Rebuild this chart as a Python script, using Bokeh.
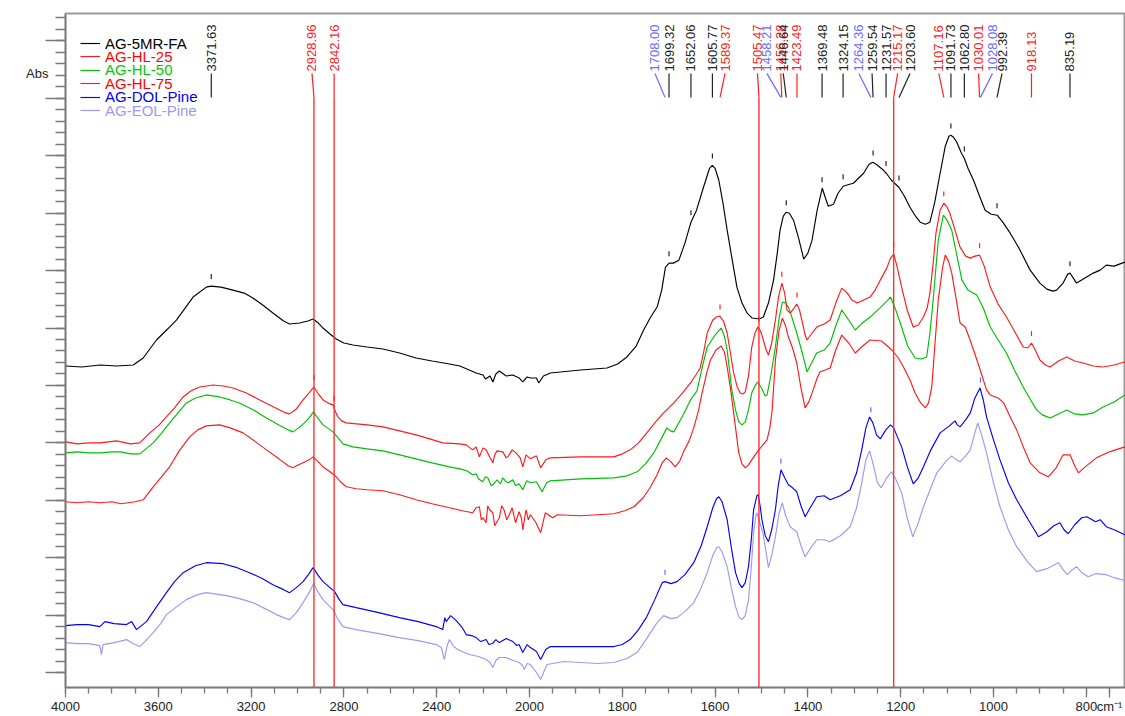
import numpy as np
from bokeh.plotting import figure
from bokeh.models import (Range1d, FixedTicker, Legend, LegendItem, LinearAxis,
                          ColumnDataSource)
from bokeh.core.properties import value
from bokeh.embed import file_html
from bokeh.resources import INLINE

# ---------------- data (wavenumber in cm-1, absorbance in a.u.) ----------------
fa_wn = [4000, 3930, 3850, 3780, 3708, 3665, 3608, 3560, 3522, 3450, 3393, 3372, 3330, 3278, 3230,
         3192, 3150, 3106, 3060, 3034, 2991, 2955, 2933, 2910, 2890, 2860, 2833, 2800, 2761, 2700,
         2632, 2560, 2489, 2420, 2345, 2300, 2260, 2230, 2200, 2190, 2170, 2158, 2145, 2130, 2100,
         2072, 2045, 2029, 2010, 1998, 1985, 1980, 1970, 1955, 1890, 1833, 1810, 1790, 1770, 1754,
         1740, 1725, 1715, 1707, 1699, 1690, 1678, 1665, 1652, 1640, 1625, 1612, 1606, 1600, 1592,
         1583, 1574, 1563, 1553, 1542, 1531, 1520, 1505, 1496, 1485, 1474, 1466, 1460, 1453, 1447,
         1440, 1431, 1420, 1409, 1400, 1391, 1380, 1369, 1362, 1356, 1345, 1335, 1324, 1310, 1302,
         1280, 1268, 1260, 1250, 1237, 1231, 1220, 1204, 1192, 1180, 1168, 1158, 1147, 1137, 1127,
         1115, 1104, 1096, 1092, 1086, 1079, 1070, 1063, 1055, 1043, 1030, 1018, 1005, 992, 980,
         964, 945, 921, 900, 885, 872, 864, 850, 840, 835, 828, 821, 810, 785, 770, 757, 740, 717]
fa_ab = [3.22, 3.21, 3.23, 3.22, 3.23, 3.30, 3.48, 3.59, 3.68, 3.91, 4.01, 4.02, 4.01, 3.98, 3.95,
         3.90, 3.83, 3.75, 3.67, 3.64, 3.65, 3.67, 3.69, 3.65, 3.60, 3.54, 3.49, 3.45, 3.43, 3.41,
         3.39, 3.35, 3.30, 3.27, 3.24, 3.22, 3.18, 3.15, 3.13, 3.09, 3.12, 3.06, 3.14, 3.17, 3.12,
         3.13, 3.10, 3.06, 3.11, 3.10, 3.10, 3.05, 3.12, 3.15, 3.18, 3.20, 3.24, 3.31, 3.42, 3.58,
         3.70, 3.81, 3.98, 4.21, 4.25, 4.25, 4.28, 4.45, 4.66, 4.78, 5.01, 5.20, 5.23, 5.20, 5.08,
         4.85, 4.58, 4.28, 4.01, 3.85, 3.75, 3.70, 3.69, 3.71, 3.85, 4.08, 4.35, 4.58, 4.72, 4.76,
         4.75, 4.68, 4.50, 4.29, 4.35, 4.48, 4.78, 5.00, 4.90, 4.82, 4.84, 4.95, 5.02, 5.04, 5.05,
         5.15, 5.24, 5.26, 5.23, 5.18, 5.15, 5.08, 5.01, 4.92, 4.81, 4.72, 4.66, 4.64, 4.66, 4.85,
         5.15, 5.42, 5.52, 5.53, 5.51, 5.46, 5.36, 5.30, 5.20, 5.08, 4.92, 4.78, 4.74, 4.73, 4.66,
         4.55, 4.40, 4.18, 4.05, 3.99, 3.97, 3.98, 4.05, 4.14, 4.15, 4.10, 4.05, 4.08, 4.15, 4.18,
         4.23, 4.22, 4.26]

hl25_wn = [4000, 3950, 3900, 3852, 3780, 3720, 3680, 3637, 3600, 3565, 3530, 3493, 3460, 3422, 3364,
           3320, 3278, 3220, 3163, 3120, 3077, 3050, 3034, 3005, 2976, 2950, 2929, 2910, 2890, 2860,
           2847, 2836, 2826, 2810, 2790, 2700, 2632, 2560, 2489, 2430, 2374, 2300, 2273, 2245, 2230,
           2216, 2200, 2187, 2170, 2158, 2150, 2140, 2115, 2100, 2090, 2075, 2058, 2040, 2029, 2015,
           1998, 1985, 1976, 1965, 1955, 1890, 1818, 1800, 1783, 1765, 1747, 1730, 1711, 1700, 1689,
           1670, 1653, 1640, 1632, 1625, 1617, 1605, 1597, 1590, 1582, 1574, 1567, 1560, 1553, 1546,
           1540, 1535, 1528, 1521, 1514, 1508, 1502, 1496, 1490, 1485, 1478, 1470, 1463, 1456, 1450,
           1445, 1438, 1430, 1424, 1418, 1413, 1406, 1402, 1394, 1381, 1365, 1352, 1340, 1327, 1315,
           1305, 1294, 1280, 1266, 1255, 1244, 1230, 1222, 1215, 1208, 1198, 1186, 1173, 1162, 1151,
           1143, 1137, 1130, 1124, 1115, 1107, 1100, 1094, 1083, 1072, 1060, 1050, 1040, 1030, 1020,
           1007, 990, 972, 955, 936, 926, 918, 910, 900, 888, 878, 860, 842, 825, 807, 785, 764, 740,
           717]
hl25_ab = [2.46, 2.44, 2.45, 2.45, 2.47, 2.44, 2.45, 2.55, 2.62, 2.71, 2.80, 2.91, 2.97, 3.01, 3.03,
           3.02, 3.00, 2.95, 2.88, 2.83, 2.78, 2.75, 2.74, 2.79, 2.88, 2.95, 3.01, 2.94, 2.88, 2.84,
           2.83, 2.76, 2.71, 2.67, 2.65, 2.63, 2.61, 2.57, 2.53, 2.49, 2.45, 2.44, 2.43, 2.38, 2.41,
           2.31, 2.40, 2.38, 2.30, 2.25, 2.33, 2.37, 2.36, 2.30, 2.32, 2.38, 2.35, 2.30, 2.21, 2.33,
           2.29, 2.32, 2.20, 2.28, 2.30, 2.31, 2.31, 2.34, 2.38, 2.45, 2.55, 2.65, 2.75, 2.80, 2.85,
           2.95, 3.05, 3.14, 3.20, 3.35, 3.55, 3.68, 3.71, 3.72, 3.67, 3.55, 3.35, 3.15, 3.02, 2.95,
           2.94, 2.96, 3.12, 3.41, 3.55, 3.61, 3.57, 3.48, 3.38, 3.33, 3.45, 3.68, 3.92, 4.05, 3.95,
           3.78, 3.75, 3.80, 3.84, 3.78, 3.68, 3.53, 3.48, 3.53, 3.61, 3.64, 3.68, 3.85, 4.00, 3.95,
           3.88, 3.85, 3.88, 3.91, 3.98, 4.08, 4.20, 4.30, 4.34, 4.22, 4.01, 3.78, 3.61, 3.63, 3.71,
           3.80, 3.95, 4.25, 4.55, 4.78, 4.85, 4.81, 4.75, 4.58, 4.41, 4.32, 4.30, 4.32, 4.33, 4.22,
           4.01, 3.84, 3.71, 3.57, 3.41, 3.40, 3.45, 3.38, 3.28, 3.23, 3.21, 3.27, 3.31, 3.27, 3.25,
           3.22, 3.21, 3.23, 3.26]

hl50_wn = [4000, 3950, 3900, 3852, 3800, 3760, 3720, 3680, 3622, 3585, 3551, 3515, 3479, 3440, 3393,
           3336, 3290, 3250, 3190, 3134, 3080, 3040, 3020, 2995, 2970, 2950, 2931, 2910, 2890, 2865,
           2847, 2825, 2804, 2761, 2700, 2632, 2560, 2489, 2420, 2345, 2300, 2270, 2245, 2230, 2220,
           2202, 2190, 2180, 2165, 2158, 2140, 2125, 2115, 2100, 2090, 2072, 2060, 2045, 2029, 2012,
           1998, 1985, 1973, 1963, 1955, 1890, 1818, 1790, 1768, 1750, 1732, 1715, 1704, 1696, 1689,
           1670, 1653, 1639, 1628, 1617, 1600, 1587, 1580, 1574, 1564, 1556, 1549, 1542, 1535, 1528,
           1521, 1514, 1508, 1500, 1492, 1488, 1480, 1470, 1462, 1455, 1448, 1442, 1434, 1424, 1412,
           1402, 1392, 1381, 1365, 1352, 1340, 1327, 1312, 1298, 1285, 1266, 1245, 1230, 1222, 1212,
           1198, 1185, 1169, 1155, 1144, 1137, 1130, 1119, 1108, 1100, 1090, 1080, 1068, 1055, 1036,
           1022, 1007, 990, 972, 955, 936, 920, 907, 895, 878, 860, 842, 825, 807, 785, 764, 740, 717]
hl50_ab = [2.35, 2.36, 2.35, 2.35, 2.36, 2.36, 2.34, 2.34, 2.45, 2.55, 2.65, 2.75, 2.85, 2.90, 2.93,
           2.91, 2.88, 2.85, 2.78, 2.70, 2.63, 2.58, 2.56, 2.60, 2.65, 2.70, 2.76, 2.69, 2.63, 2.59,
           2.56, 2.50, 2.44, 2.41, 2.39, 2.37, 2.33, 2.29, 2.25, 2.21, 2.19, 2.17, 2.13, 2.14, 2.09,
           2.06, 2.11, 2.10, 2.02, 2.03, 2.08, 2.04, 2.10, 2.06, 2.05, 2.08, 2.02, 2.04, 1.98, 2.07,
           2.05, 2.06, 1.96, 2.05, 2.07, 2.09, 2.10, 2.12, 2.16, 2.24, 2.35, 2.50, 2.60, 2.57, 2.56,
           2.72, 2.88, 2.97, 3.20, 3.41, 3.53, 3.60, 3.52, 3.38, 2.98, 2.78, 2.66, 2.63, 2.66, 2.78,
           2.95, 3.02, 3.06, 3.00, 2.92, 2.93, 3.12, 3.41, 3.70, 3.86, 3.85, 3.81, 3.70, 3.55, 3.35,
           3.16, 3.25, 3.35, 3.38, 3.45, 3.62, 3.78, 3.68, 3.58, 3.64, 3.71, 3.80, 3.87, 3.91, 3.80,
           3.61, 3.42, 3.30, 3.29, 3.31, 3.55, 3.88, 4.48, 4.73, 4.68, 4.58, 4.35, 4.08, 3.98, 3.93,
           3.80, 3.61, 3.48, 3.35, 3.18, 3.01, 2.88, 2.78, 2.73, 2.70, 2.74, 2.78, 2.74, 2.73, 2.75,
           2.81, 2.86, 2.93]

hl75_wn = [4000, 3950, 3900, 3852, 3800, 3760, 3700, 3665, 3622, 3590, 3551, 3510, 3465, 3430, 3393,
           3336, 3290, 3235, 3180, 3134, 3080, 3040, 3020, 2995, 2976, 2950, 2933, 2910, 2890, 2860,
           2833, 2810, 2790, 2747, 2700, 2632, 2560, 2489, 2420, 2345, 2290, 2245, 2230, 2216, 2208,
           2200, 2187, 2180, 2172, 2158, 2150, 2140, 2130, 2120, 2110, 2098, 2087, 2075, 2060, 2045,
           2035, 2029, 2015, 2005, 1998, 1986, 1976, 1966, 1950, 1940, 1890, 1818, 1795, 1775, 1755,
           1739, 1725, 1714, 1705, 1695, 1686, 1676, 1668, 1656, 1646, 1636, 1628, 1618, 1610, 1598,
           1587, 1580, 1574, 1567, 1560, 1549, 1542, 1535, 1528, 1521, 1506, 1495, 1488, 1482, 1477,
           1470, 1462, 1455, 1448, 1442, 1433, 1424, 1415, 1406, 1398, 1391, 1380, 1374, 1352, 1340,
           1327, 1312, 1298, 1282, 1266, 1241, 1219, 1205, 1194, 1180, 1169, 1157, 1147, 1140, 1133,
           1126, 1119, 1110, 1104, 1097, 1090, 1080, 1072, 1061, 1052, 1043, 1030, 1015, 1007, 990,
           978, 965, 950, 935, 921, 900, 882, 865, 850, 835, 825, 817, 800, 778, 750, 717]
hl75_ab = [1.86, 1.85, 1.86, 1.85, 1.86, 1.84, 1.86, 1.88, 2.01, 2.10, 2.21, 2.37, 2.51, 2.58, 2.62,
           2.63, 2.60, 2.55, 2.46, 2.38, 2.29, 2.22, 2.20, 2.23, 2.25, 2.28, 2.31, 2.26, 2.21, 2.16,
           2.11, 2.05, 2.01, 1.99, 1.98, 1.97, 1.93, 1.88, 1.84, 1.80, 1.77, 1.75, 1.80, 1.81, 1.68,
           1.70, 1.65, 1.82, 1.78, 1.75, 1.62, 1.66, 1.70, 1.82, 1.78, 1.68, 1.73, 1.80, 1.65, 1.76,
           1.70, 1.58, 1.78, 1.68, 1.73, 1.65, 1.55, 1.75, 1.70, 1.73, 1.72, 1.74, 1.77, 1.81, 1.90,
           2.01, 2.13, 2.25, 2.30, 2.26, 2.21, 2.27, 2.36, 2.47, 2.60, 2.77, 2.95, 3.15, 3.28, 3.38,
           3.42, 3.36, 3.21, 3.00, 2.75, 2.35, 2.24, 2.20, 2.23, 2.28, 2.38, 2.44, 2.48, 2.60, 2.78,
           3.28, 3.58, 3.70, 3.62, 3.51, 3.40, 3.25, 3.00, 2.80, 2.86, 2.95, 3.10, 3.16, 3.20, 3.38,
           3.53, 3.45, 3.35, 3.42, 3.48, 3.47, 3.38, 3.30, 3.21, 3.08, 2.95, 2.85, 2.80, 2.85, 3.01,
           3.45, 3.88, 4.20, 4.33, 4.27, 4.15, 3.88, 3.65, 3.61, 3.50, 3.38, 3.20, 2.98, 2.93, 2.90,
           2.85, 2.72, 2.58, 2.40, 2.25, 2.15, 2.11, 2.20, 2.33, 2.33, 2.22, 2.15, 2.22, 2.30, 2.36,
           2.41]

dol_wn = [4000, 3950, 3900, 3852, 3830, 3790, 3737, 3715, 3694, 3651, 3610, 3565, 3530, 3493, 3440,
          3393, 3321, 3260, 3207, 3150, 3106, 3060, 3034, 3005, 2976, 2950, 2933, 2910, 2890, 2860,
          2840, 2820, 2804, 2747, 2650, 2561, 2480, 2402, 2374, 2365, 2359, 2340, 2316, 2290, 2273,
          2250, 2230, 2210, 2187, 2175, 2160, 2145, 2130, 2100, 2072, 2055, 2045, 2029, 2010, 1998,
          1985, 1976, 1965, 1955, 1890, 1818, 1800, 1783, 1765, 1747, 1730, 1714, 1708, 1695, 1682,
          1665, 1646, 1630, 1617, 1605, 1597, 1592, 1585, 1574, 1565, 1556, 1548, 1542, 1535, 1528,
          1522, 1517, 1510, 1507, 1503, 1499, 1492, 1485, 1478, 1470, 1464, 1458, 1450, 1442, 1433,
          1424, 1415, 1406, 1395, 1381, 1365, 1352, 1330, 1309, 1295, 1284, 1275, 1267, 1260, 1252,
          1244, 1232, 1222, 1215, 1208, 1198, 1185, 1173, 1162, 1151, 1135, 1115, 1095, 1083, 1078,
          1072, 1060, 1050, 1040, 1029, 1022, 1015, 1000, 986, 968, 950, 925, 903, 885, 870, 857,
          848, 839, 825, 810, 799, 780, 770, 757, 740, 717]
dol_ab = [0.62, 0.63, 0.63, 0.61, 0.66, 0.64, 0.63, 0.66, 0.58, 0.66, 0.80, 0.95, 1.06, 1.15, 1.22,
          1.25, 1.24, 1.20, 1.15, 1.09, 1.03, 0.98, 0.95, 1.00, 1.06, 1.14, 1.20, 1.12, 1.06, 1.00,
          0.96, 0.88, 0.83, 0.80, 0.75, 0.70, 0.66, 0.61, 0.58, 0.70, 0.66, 0.72, 0.67, 0.60, 0.53,
          0.52, 0.50, 0.46, 0.48, 0.43, 0.44, 0.48, 0.45, 0.49, 0.46, 0.42, 0.43, 0.35, 0.43, 0.40,
          0.36, 0.28, 0.38, 0.41, 0.41, 0.41, 0.43, 0.48, 0.58, 0.71, 0.88, 1.05, 1.06, 1.04, 1.06,
          1.13, 1.25, 1.42, 1.61, 1.80, 1.89, 1.91, 1.86, 1.68, 1.40, 1.15, 1.04, 1.00, 1.05, 1.21,
          1.48, 1.78, 1.92, 1.93, 1.82, 1.68, 1.52, 1.46, 1.58, 1.78, 2.02, 2.18, 2.10, 2.03, 2.00,
          1.96, 1.82, 1.71, 1.80, 1.91, 1.92, 1.88, 1.92, 1.98, 2.15, 2.38, 2.60, 2.71, 2.65, 2.53,
          2.49, 2.58, 2.63, 2.60, 2.52, 2.41, 2.20, 2.04, 2.10, 2.21, 2.38, 2.55, 2.62, 2.67, 2.63,
          2.61, 2.68, 2.75, 2.90, 3.00, 2.88, 2.71, 2.48, 2.28, 2.05, 1.88, 1.68, 1.51, 1.56, 1.62,
          1.65, 1.58, 1.54, 1.63, 1.70, 1.71, 1.66, 1.68, 1.61, 1.58, 1.53]

eol_wn = [4000, 3950, 3900, 3852, 3845, 3838, 3790, 3737, 3710, 3680, 3650, 3622, 3590, 3565, 3520,
          3479, 3430, 3393, 3307, 3250, 3192, 3140, 3091, 3060, 3034, 3005, 2976, 2950, 2931, 2910,
          2890, 2865, 2847, 2825, 2804, 2747, 2650, 2561, 2480, 2402, 2380, 2367, 2355, 2345, 2330,
          2310, 2280, 2259, 2220, 2187, 2170, 2158, 2145, 2130, 2101, 2070, 2044, 2030, 2022, 2010,
          1998, 1985, 1976, 1968, 1962, 1926, 1854, 1818, 1790, 1768, 1755, 1739, 1725, 1711, 1695,
          1682, 1665, 1646, 1630, 1617, 1605, 1597, 1592, 1585, 1574, 1565, 1556, 1548, 1542, 1535,
          1528, 1522, 1517, 1512, 1510, 1504, 1497, 1490, 1485, 1478, 1470, 1462, 1455, 1448, 1438,
          1430, 1424, 1415, 1406, 1395, 1381, 1365, 1352, 1330, 1309, 1295, 1284, 1275, 1267, 1260,
          1250, 1242, 1230, 1220, 1212, 1198, 1186, 1174, 1162, 1151, 1135, 1122, 1100, 1090, 1080,
          1072, 1060, 1050, 1042, 1034, 1025, 1015, 1000, 986, 968, 950, 925, 907, 885, 860, 850,
          841, 830, 821, 810, 796, 780, 757, 740, 717]
eol_ab = [0.45, 0.44, 0.44, 0.42, 0.33, 0.43, 0.45, 0.48, 0.44, 0.41, 0.48, 0.55, 0.64, 0.73, 0.81,
          0.88, 0.93, 0.95, 0.92, 0.89, 0.85, 0.79, 0.73, 0.70, 0.68, 0.75, 0.85, 0.95, 1.04, 0.95,
          0.88, 0.82, 0.78, 0.68, 0.61, 0.58, 0.54, 0.50, 0.47, 0.43, 0.40, 0.28, 0.42, 0.48, 0.42,
          0.38, 0.35, 0.33, 0.31, 0.28, 0.25, 0.20, 0.27, 0.30, 0.30, 0.27, 0.25, 0.22, 0.18, 0.24,
          0.23, 0.15, 0.08, 0.17, 0.23, 0.26, 0.24, 0.25, 0.29, 0.35, 0.44, 0.55, 0.65, 0.72, 0.69,
          0.70, 0.76, 0.85, 1.00, 1.15, 1.32, 1.40, 1.41, 1.36, 1.21, 1.00, 0.81, 0.70, 0.68, 0.72,
          0.88, 1.20, 1.55, 1.72, 1.75, 1.66, 1.55, 1.35, 1.20, 1.32, 1.51, 1.75, 1.85, 1.72, 1.61,
          1.58, 1.56, 1.42, 1.31, 1.39, 1.48, 1.48, 1.46, 1.52, 1.61, 1.80, 2.05, 2.28, 2.37, 2.25,
          2.05, 2.00, 2.10, 2.16, 2.10, 1.95, 1.70, 1.51, 1.65, 1.81, 2.00, 2.15, 2.28, 2.32, 2.28,
          2.26, 2.32, 2.38, 2.52, 2.65, 2.52, 2.35, 2.05, 1.81, 1.58, 1.41, 1.25, 1.16, 1.19, 1.25,
          1.18, 1.13, 1.18, 1.21, 1.15, 1.11, 1.14, 1.13, 1.10, 1.07]

series_names = ["AG-5MR-FA", "AG-HL-25", "AG-HL-50", "AG-HL-75", "AG-DOL-Pine", "AG-EOL-Pine"]

peak_wn = [3371.63, 2928.96, 2842.16, 1708.00, 1699.32, 1652.06, 1605.77, 1589.37, 1505.47, 1458.21,
           1456.28, 1446.64, 1423.49, 1369.48, 1324.15, 1264.36, 1259.54, 1231.57, 1215.17, 1203.60,
           1107.16, 1091.73, 1062.80, 1030.01, 1028.08, 992.39, 918.13, 835.19]
peak_series = ["AG-5MR-FA", "AG-HL-25", "AG-HL-25", "AG-DOL-Pine", "AG-5MR-FA", "AG-5MR-FA",
               "AG-5MR-FA", "AG-HL-25", "AG-HL-25", "AG-DOL-Pine", "AG-HL-25", "AG-5MR-FA",
               "AG-HL-25", "AG-5MR-FA", "AG-5MR-FA", "AG-DOL-Pine", "AG-5MR-FA", "AG-5MR-FA",
               "AG-HL-25", "AG-5MR-FA", "AG-HL-25", "AG-5MR-FA", "AG-5MR-FA", "AG-HL-25",
               "AG-DOL-Pine", "AG-5MR-FA", "AG-HL-25", "AG-5MR-FA"]
marked_lines_wn = [2928.96, 2842.16, 1505.47, 1215.17]

x_tick_wn = [4000, 3600, 3200, 2800, 2400, 2000, 1800, 1600, 1400, 1200, 1000, 800]
x_unit_label = "cm⁻¹"
y_label = "Abs"

# ---------------- layout / style ----------------
W, H = 1125, 716
B_LEFT, B_TOP, B_BOTTOM = 65, 13, 28
X_END = 2284.5
Y0, Y1 = 0.0, 6.75
PX_PER_U = (W - B_LEFT) / X_END
label_nudge_px = [0, -2, 0, -10, 0, 0, 0, 5, -1.5, -14, -1, -3, 0, 0, 0, -12, -1, 0, 4, 11,
                  -5, 0, 0, -1, 12, 5, 0, 0]

colors = {"AG-5MR-FA": "#000000", "AG-HL-25": "#ff1a1a", "AG-HL-50": "#00c000",
          "AG-HL-75": "#ff1a1a", "AG-DOL-Pine": "#0000ff", "AG-EOL-Pine": "#9a9af0"}
text_colors = {"AG-5MR-FA": "#000000", "AG-HL-25": "#ff0000", "AG-HL-50": "#00c800",
               "AG-HL-75": "#ff0000", "AG-DOL-Pine": "#0000ff", "AG-EOL-Pine": "#9a9af0"}
peak_text_colors = {"AG-5MR-FA": "#222222", "AG-HL-25": "#ff2020", "AG-DOL-Pine": "#6a6aff"}
FONT = "Liberation Sans"
AXIS_GRAY = "#7a7a7a"


def to_u(wn):
    """Piecewise wavenumber axis: 4000-2000 compressed 2:1, below 2000 expanded."""
    wn = np.asarray(wn, dtype=float)
    return np.where(wn >= 2000, (4000.0 - wn) / 2.0, 1000.0 + (2000.0 - wn))


p = figure(width=W, height=H, x_range=Range1d(0, X_END), y_range=Range1d(Y0, Y1),
           output_backend="svg", toolbar_location=None,
           min_border_left=B_LEFT, min_border_right=0, min_border_top=B_TOP,
           min_border_bottom=B_BOTTOM)
p.background_fill_color = "white"
p.border_fill_color = "white"
p.xgrid.visible = False
p.ygrid.visible = False
p.outline_line_color = "#9a9a9a"
p.outline_line_width = 2

data = {
    "AG-5MR-FA": (fa_wn, fa_ab),
    "AG-HL-25": (hl25_wn, hl25_ab),
    "AG-HL-50": (hl50_wn, hl50_ab),
    "AG-HL-75": (hl75_wn, hl75_ab),
    "AG-DOL-Pine": (dol_wn, dol_ab),
    "AG-EOL-Pine": (eol_wn, eol_ab),
}

renderers = {}
for name in reversed(series_names):
    wn, ab = data[name]
    src = ColumnDataSource(dict(x=to_u(wn), y=ab))
    renderers[name] = p.line("x", "y", source=src, line_color=colors[name], line_width=1.15)

# ---- vertical full-height lines for marked bands
for wn in marked_lines_wn:
    u = float(to_u([wn])[0])
    p.segment(x0=[u], y0=[5.91], x1=[u], y1=[Y0], line_color="#ff3030", line_width=1.4)

# ---- peak labels (rotated), leaders and small peak marks
pk_u = to_u(peak_wn)
lab_u = pk_u + np.array(label_nudge_px) / PX_PER_U
pk_col = [peak_text_colors[s] for s in peak_series]
lab_src = ColumnDataSource(dict(x=lab_u, y=[6.17] * len(peak_wn),
                                text=["%.2f" % w for w in peak_wn], color=pk_col))
p.text(x="x", y="y", text="text", source=lab_src, angle=np.pi / 2, text_align="left",
       text_baseline="middle", text_font=value(FONT), text_font_size="13px", text_color="color")
p.segment(x0=lab_u, y0=[6.15] * len(peak_wn), x1=pk_u, y1=[5.91] * len(peak_wn),
          line_color=pk_col, line_width=1.2)

mark_y = []
for wn, s in zip(peak_wn, peak_series):
    sw, sa = data[s]
    mark_y.append(float(np.interp(wn, sw[::-1], sa[::-1])))
mark_y = np.array(mark_y)
p.segment(x0=pk_u, y0=mark_y + 0.07, x1=pk_u, y1=mark_y + 0.12, line_color=pk_col, line_width=1.2)

# ---- axes
unit_u = 2250.0
x_ticks = [float(v) for v in to_u(x_tick_wn)] + [unit_u]
p.xaxis.ticker = FixedTicker(ticks=x_ticks,
                             minor_ticks=[float(v) for v in np.arange(0, X_END, 50)])
overrides = {float(u): str(w) for u, w in zip(to_u(x_tick_wn), x_tick_wn)}
overrides[unit_u] = x_unit_label
p.xaxis.major_label_overrides = overrides
p.xaxis.major_tick_out = 10
p.xaxis.major_tick_in = 0
p.xaxis.minor_tick_out = 6
p.xaxis.minor_tick_in = 0
p.xaxis.major_label_standoff = 1
p.xaxis.major_label_text_font = FONT
p.xaxis.major_label_text_font_size = "13px"
p.xaxis.major_label_text_color = "#222222"

y_major = [round(0.15 + 0.575 * k, 4) for k in range(12)]
p.yaxis.ticker = FixedTicker(ticks=y_major,
                             minor_ticks=[round(0.15 + 0.115 * k, 4) for k in range(58)])
p.yaxis.major_label_overrides = {t: "" for t in y_major}
p.yaxis.major_label_standoff = 0
p.yaxis.major_tick_out = 20
p.yaxis.major_tick_in = 0
p.yaxis.minor_tick_out = 10
p.yaxis.minor_tick_in = 0

for ax in (p.xaxis[0], p.yaxis[0]):
    ax.axis_line_color = AXIS_GRAY
    ax.axis_line_width = 1.5
    ax.major_tick_line_color = AXIS_GRAY
    ax.minor_tick_line_color = AXIS_GRAY
    ax.major_tick_line_width = 1.3
    ax.minor_tick_line_width = 1.3

# "Abs" caption next to the upper part of the y axis (an extra, tick-less axis)
abs_axis = LinearAxis(ticker=FixedTicker(ticks=[6.15], minor_ticks=[]),
                      major_label_overrides={6.15: y_label},
                      axis_line_color=None, major_tick_line_color=None,
                      minor_tick_line_color=None, major_tick_out=0, major_tick_in=0,
                      major_label_standoff=-3, major_label_text_font=FONT,
                      major_label_text_font_size="13px", major_label_text_color="#222222")
p.add_layout(abs_axis, "left")

# ---- legend: one single-item legend per series (to colour each label)
for i, name in enumerate(series_names):
    leg = Legend(items=[LegendItem(label=name, renderers=[renderers[name]])],
                 location=(15, 635.5 - 13.4 * i), padding=0, margin=0, spacing=0,
                 glyph_width=20, glyph_height=14, label_height=14, label_standoff=5,
                 label_text_font=FONT, label_text_font_size="15px",
                 label_text_color=text_colors[name],
                 border_line_alpha=0, background_fill_alpha=0)
    p.add_layout(leg)

open("out.html", "w").write(file_html(p, INLINE))
